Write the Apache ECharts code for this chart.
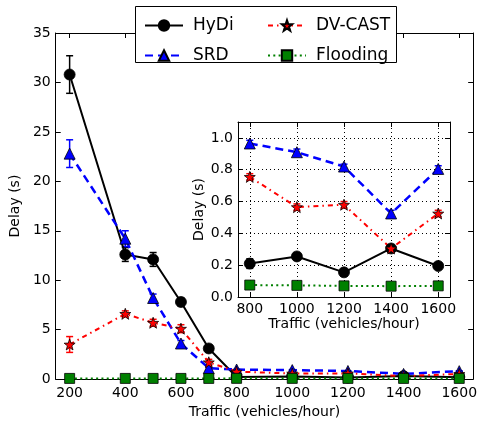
<!DOCTYPE html>
<html><head><meta charset="utf-8">
<script src="https://cdn.jsdelivr.net/npm/echarts@6/dist/echarts.min.js"></script>
<style>html,body{margin:0;padding:0;background:#fff}#c{width:480px;height:424px}</style>
</head><body><div id="c"></div>
<script>
const traffic = [200, 400, 500, 600, 700, 800, 1000, 1200, 1400, 1600];
const hydi = [30.8, 12.6, 12.1, 7.8, 3.1, 0.21, 0.255, 0.155, 0.305, 0.195];
const hydiErr = [1.9, 0.7, 0.7, 0.4, 0.35, 0.03, 0.02, 0.015, 0.02, 0.015];
const srd = [22.8, 14.2, 8.2, 3.6, 1.1, 0.965, 0.91, 0.82, 0.525, 0.805];
const srdErr = [1.4, 0.8, 0.4, 0.3, 0.2, 0.02, 0.02, 0.015, 0.02, 0.02];
const dvcast = [3.5, 6.6, 5.7, 5.1, 1.7, 0.755, 0.565, 0.58, 0.305, 0.525];
const dvcastErr = [0.8, 0.3, 0.35, 0.4, 0.3, 0.02, 0.02, 0.02, 0.02, 0.02];
const flooding = [0.07, 0.07, 0.07, 0.07, 0.07, 0.075, 0.073, 0.07, 0.068, 0.07];
const floodingErr = [0.02, 0.02, 0.02, 0.02, 0.02, 0.01, 0.01, 0.01, 0.01, 0.01];
const mainXTicks = [200, 400, 600, 800, 1000, 1200, 1400, 1600];
const insetXTicks = [800, 1000, 1200, 1400, 1600];
const insetStart = 5; // index of 800 in traffic

const STAR = 'path://M50,0 L61.76,33.82 L97.55,34.55 L69.02,56.18 L79.39,90.45 L50,70 L20.61,90.45 L30.98,56.18 L2.45,34.55 L38.24,33.82 Z';
const FONT = 'DejaVu Sans';

const seriesDefs = [
  {name: 'HyDi', y: hydi, e: hydiErr, color: '#000000', symbol: 'circle', size: 11,
   line: {color: '#000', width: 2, type: 'solid'}, border: '#000'},
  {name: 'SRD', y: srd, e: srdErr, color: '#0000ff', symbol: 'triangle', size: 11,
   line: {color: '#0000ff', width: 2.5, type: [8, 5]}, border: '#000'},
  {name: 'DV-CAST', y: dvcast, e: dvcastErr, color: '#ff0000', symbol: STAR, size: 11,
   line: {color: '#ff0000', width: 2, type: [5, 4, 1.5, 4]}, border: '#000'},
  {name: 'Flooding', y: flooding, e: floodingErr, color: '#008000', symbol: 'rect', size: 10,
   line: {color: '#008000', width: 2, type: [2, 3.3]}, border: '#000'}
];

function errRender(color) {
  return function (params, api) {
    const x = api.value(0), y = api.value(1), e = api.value(2);
    const top = api.coord([x, y + e]), bot = api.coord([x, y - e]);
    const w = 3.5;
    const st = {stroke: color, lineWidth: 1.5};
    return {type: 'group', children: [
      {type: 'line', shape: {x1: top[0], y1: top[1], x2: bot[0], y2: bot[1]}, style: st},
      {type: 'line', shape: {x1: top[0] - w, y1: top[1], x2: top[0] + w, y2: top[1]}, style: st},
      {type: 'line', shape: {x1: bot[0] - w, y1: bot[1], x2: bot[0] + w, y2: bot[1]}, style: st}
    ]};
  };
}

const series = [];
seriesDefs.forEach(function (d) {
  const full = traffic.map(function (t, i) { return [t, d.y[i], d.e[i]]; });
  const ins = full.slice(insetStart);
  series.push({type: 'custom', xAxisIndex: 0, yAxisIndex: 0, z: 2, silent: true,
    renderItem: errRender(d.color), data: full, encode: {x: 0, y: 1}});
  series.push({type: 'line', name: d.name, xAxisIndex: 0, yAxisIndex: 0, z: 2,
    data: full.map(function (p) { return [p[0], p[1]]; }),
    symbol: d.symbol, symbolSize: d.size, showSymbol: true,
    lineStyle: d.line, itemStyle: {color: d.color, borderColor: d.border, borderWidth: 0.8, opacity: 1},
    animation: false});
  series.push({type: 'custom', xAxisIndex: 2, yAxisIndex: 2, z: 12, silent: true,
    renderItem: errRender(d.color), data: ins, encode: {x: 0, y: 1}});
  series.push({type: 'line', name: d.name + ' ', xAxisIndex: 2, yAxisIndex: 2, z: 12,
    data: ins.map(function (p) { return [p[0], p[1]]; }),
    symbol: d.symbol, symbolSize: d.size, showSymbol: true,
    lineStyle: d.line, itemStyle: {color: d.color, borderColor: d.border, borderWidth: 0.8, opacity: 1},
    animation: false});
});
series.push({type: 'line', xAxisIndex: 2, yAxisIndex: 2, z: 11, data: [], silent: true,
  markLine: {silent: true, symbol: ['none', 'none'], label: {show: false}, animation: false,
    lineStyle: {color: '#000', type: [1, 3], width: 1},
    data: insetXTicks.map(function (v) { return {xAxis: v}; })}});

const axLine = {show: true, onZero: false, lineStyle: {color: '#000', width: 1}};
const tickIn = {show: true, inside: true, length: 5, lineStyle: {color: '#000', width: 1}};
const lblStyle = {color: '#000', fontSize: 14, fontFamily: FONT};
const nameStyle = {color: '#000', fontSize: 14, fontFamily: FONT};
const plain = function (v) { return String(v); };

const option = {
  animation: false,
  backgroundColor: '#fff',
  grid: [
    {left: 54, right: 4, top: 33, bottom: 39, containLabel: false},
    {left: 238, width: 212, top: 122, height: 175, containLabel: false}
  ],
  graphic: [
    {type: 'rect', shape: {x: 238, y: 122, width: 212, height: 175}, style: {fill: '#fff'}, z: 5, silent: true},
    {type: 'rect', shape: {x: 135.5, y: 6.5, width: 261, height: 56}, style: {fill: '#fff', stroke: '#000', lineWidth: 1}, z: 20, silent: true}
  ],
  legend: [
    {data: ['HyDi', 'SRD'], orient: 'vertical', left: 139, top: 12, itemWidth: 38, itemHeight: 13, itemGap: 13,
     textStyle: {color: '#000', fontSize: 17, fontFamily: FONT, padding: [0, 0, 0, 5]}, z: 21, selectedMode: false},
    {data: ['DV-CAST', 'Flooding'], orient: 'vertical', left: 262, top: 12, itemWidth: 38, itemHeight: 13, itemGap: 13,
     textStyle: {color: '#000', fontSize: 17, fontFamily: FONT, padding: [0, 0, 0, 5]}, z: 21, selectedMode: false}
  ],
  xAxis: [
    {gridIndex: 0, type: 'value', min: 150, max: 1650, position: 'bottom', axisLine: axLine,
     axisTick: Object.assign({customValues: mainXTicks}, tickIn),
     axisLabel: Object.assign({customValues: mainXTicks, margin: 7, formatter: plain}, lblStyle),
     splitLine: {show: false},
     name: 'Traffic (vehicles/hour)', nameLocation: 'middle', nameGap: 22, nameTextStyle: nameStyle},
    {gridIndex: 0, type: 'value', min: 150, max: 1650, position: 'top', axisLine: axLine,
     axisTick: Object.assign({customValues: mainXTicks}, tickIn), axisLabel: {show: false}, splitLine: {show: false}},
    {gridIndex: 1, type: 'value', min: 750, max: 1650, position: 'bottom', axisLine: axLine, z: 10,
     axisTick: Object.assign({customValues: insetXTicks}, tickIn),
     axisLabel: Object.assign({customValues: insetXTicks, margin: 5, formatter: plain}, lblStyle),
     splitLine: {show: false},
     name: 'Traffic (vehicles/hour)', nameLocation: 'middle', nameGap: 20, nameTextStyle: nameStyle},
    {gridIndex: 1, type: 'value', min: 750, max: 1650, position: 'top', axisLine: axLine, z: 10,
     axisTick: Object.assign({customValues: insetXTicks}, tickIn), axisLabel: {show: false}, splitLine: {show: false}}
  ],
  yAxis: [
    {gridIndex: 0, type: 'value', min: 0, max: 35, interval: 5, position: 'left', axisLine: axLine, axisTick: tickIn,
     axisLabel: Object.assign({margin: 5}, lblStyle), splitLine: {show: false},
     name: 'Delay (s)', nameLocation: 'middle', nameGap: 28, nameRotate: 90, nameTextStyle: nameStyle},
    {gridIndex: 0, type: 'value', min: 0, max: 35, interval: 5, position: 'right', axisLine: axLine, axisTick: tickIn,
     axisLabel: {show: false}, splitLine: {show: false}},
    {gridIndex: 1, type: 'value', min: 0, max: 1.1, interval: 0.2, position: 'left', axisLine: axLine, axisTick: tickIn, z: 10,
     axisLabel: Object.assign({margin: 5, showMaxLabel: false, formatter: function (v) { return v.toFixed(1); }}, lblStyle),
     splitLine: {show: true, lineStyle: {color: '#000', type: [1, 3], width: 1}},
     name: 'Delay (s)', nameLocation: 'middle', nameGap: 31, nameRotate: 90, nameTextStyle: nameStyle},
    {gridIndex: 1, type: 'value', min: 0, max: 1.1, interval: 0.2, position: 'right', axisLine: axLine, axisTick: tickIn, z: 10,
     axisLabel: {show: false}, splitLine: {show: false}}
  ],
  series: series
};
const chart = echarts.init(document.getElementById('c'), null, {renderer: 'canvas'});
chart.setOption(option);
</script>
</body></html>
